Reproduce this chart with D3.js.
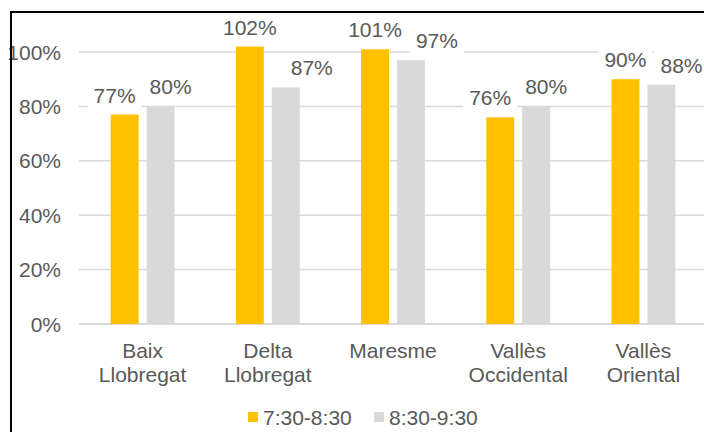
<!DOCTYPE html>
<html>
<head>
<meta charset="utf-8">
<script src="https://cdn.jsdelivr.net/npm/d3@7"></script>
<style>
  body { margin: 0; background: #fff; }
  text { font-family: "Liberation Sans", Arial, sans-serif; fill: #595959; }
</style>
</head>
<body>
<script>
var categories = [["Baix", "Llobregat"], ["Delta", "Llobregat"], ["Maresme"], ["Vallès", "Occidental"], ["Vallès", "Oriental"]];
var seriesNames = ["7:30-8:30", "8:30-9:30"];
var early = [77, 102, 101, 76, 90];
var late = [80, 87, 97, 80, 88];
var yTicks = [0, 20, 40, 60, 80, 100];
var colors = ["#FFC000", "#D9D9D9"];

var width = 704;
var height = 432;

var svg = d3.select("body").append("svg")
    .attr("width", width)
    .attr("height", height);

var keys = categories.map(function(c) { return c.join(" "); });

var x0 = d3.scaleBand()
    .domain(keys)
    .range([80, 706])
    .paddingInner(0.49)
    .paddingOuter(0.245);

var x1 = d3.scaleBand()
    .domain([0, 1])
    .range([0, x0.bandwidth()])
    .paddingInner(0.222);

var y = d3.scaleLinear()
    .domain([0, 100])
    .range([324, 52]);

// gridlines
svg.append("g").selectAll("line")
    .data(yTicks)
    .enter().append("line")
    .attr("x1", 79)
    .attr("x2", width)
    .attr("y1", function(d) { return y(d); })
    .attr("y2", function(d) { return y(d); })
    .attr("stroke", "#D9D9D9")
    .attr("stroke-width", function(d) { return d == 0 ? 2 : 1.5; });

var boxLayer = svg.append("g");
var barLayer = svg.append("g");
var textLayer = svg.append("g");

// y labels
textLayer.append("g").selectAll("text")
    .data(yTicks)
    .enter().append("text")
    .attr("x", 61)
    .attr("y", function(d) { return y(d); })
    .attr("dy", "0.36em")
    .attr("text-anchor", "end")
    .style("font-size", "21px")
    .text(function(d) { return d + "%"; });

// bars
var rows = [];
for (let i = 0; i < keys.length; i++) {
    rows.push({cat: keys[i], s: 0, v: early[i]});
    rows.push({cat: keys[i], s: 1, v: late[i]});
}

barLayer.selectAll("rect")
    .data(rows)
    .enter().append("rect")
    .attr("x", function(d) { return x0(d.cat) + x1(d.s); })
    .attr("y", function(d) { return y(d.v); })
    .attr("width", x1.bandwidth())
    .attr("height", function(d) { return y(0) - y(d.v); })
    .attr("fill", function(d) { return colors[d.s]; });

// value labels
var vl = textLayer.append("g").selectAll("text")
    .data(rows)
    .enter().append("text")
    .attr("x", function(d) { return x0(d.cat) + x1(d.s) + x1.bandwidth() / 2; })
    .attr("y", function(d) { return y(d.v) - 12; })
    .attr("text-anchor", "middle")
    .style("font-size", "21px")
    .text(function(d) { return d.v + "%"; });

// push the two labels of a group apart when they collide (like excel does)
var padX = 7, padY = 9;
var nodes = vl.nodes();
for (let i = 0; i < nodes.length; i += 2) {
    let a = nodes[i].getBBox(), b = nodes[i + 1].getBBox();
    let ovX = (a.x + a.width + padX) - (b.x - padX);
    let ovY = Math.min(a.y + a.height, b.y + b.height) + padY - Math.max(a.y, b.y) + padY;
    if (ovX > 0 && ovY > 0) {
        let ga = rows[i].v < rows[i + 1].v ? ovX / 2 : 0;
        d3.select(nodes[i]).attr("x", +nodes[i].getAttribute("x") - ga);
        d3.select(nodes[i + 1]).attr("x", +nodes[i + 1].getAttribute("x") + (ovX - ga));
    }
}

// white boxes under the bars, so they only cut the gridlines
vl.each(function() {
    var b = this.getBBox();
    boxLayer.append("rect")
        .attr("x", b.x - 6)
        .attr("y", b.y - 3)
        .attr("width", b.width + 12)
        .attr("height", b.height + 6)
        .attr("fill", "#fff");
});

// category labels
var cl = textLayer.append("g").selectAll("text")
    .data(categories)
    .enter().append("text")
    .attr("text-anchor", "middle")
    .attr("x", function(d, i) { return x0(keys[i]) + x0.bandwidth() / 2; })
    .attr("y", 358)
    .style("font-size", "21px");

cl.selectAll("tspan")
    .data(function(d) { return d; })
    .enter().append("tspan")
    .attr("x", function() { return d3.select(this.parentNode).attr("x"); })
    .attr("dy", function(d, i) { return i == 0 ? 0 : 24; })
    .text(function(d) { return d; });

// legend
var legX = [248, 374];
var leg = svg.append("g").selectAll("g")
    .data(seriesNames)
    .enter().append("g")
    .attr("transform", function(d, i) { return "translate(" + legX[i] + ",412)"; });

leg.append("rect")
    .attr("width", 10)
    .attr("height", 10)
    .attr("fill", function(d, i) { return colors[i]; });

leg.append("text")
    .attr("x", 15)
    .attr("y", 13)
    .style("font-size", "21px")
    .text(function(d) { return d; });

// frame
svg.append("line").attr("x1", 10).attr("y1", 12).attr("x2", width).attr("y2", 12).attr("stroke", "black").attr("stroke-width", 2);
svg.append("line").attr("x1", 11).attr("y1", 11).attr("x2", 11).attr("y2", height).attr("stroke", "black").attr("stroke-width", 2);
</script>
</body>
</html>
